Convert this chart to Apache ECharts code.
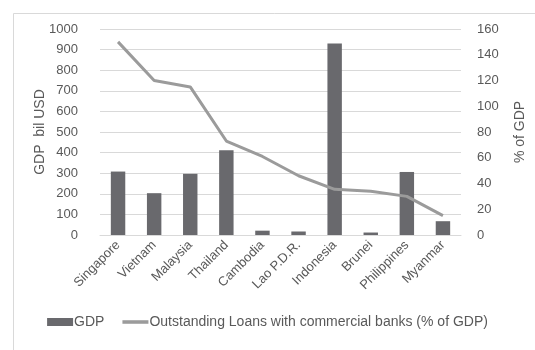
<!DOCTYPE html>
<html>
<head>
<meta charset="utf-8">
<script src="https://cdn.jsdelivr.net/npm/echarts@6/dist/echarts.min.js"></script>
<style>
  html, body { margin: 0; padding: 0; background: #fff; }
  #chart { width: 535px; height: 350px; }
</style>
</head>
<body>
<div id="chart"></div>
<script>
// ASEAN economies: GDP (bil USD) and loans outstanding with commercial banks (% of GDP)
const countries = ['Singapore', 'Vietnam', 'Malaysia', 'Thailand', 'Cambodia', 'Lao P.D.R.', 'Indonesia', 'Brunei', 'Philippines', 'Myanmar'];
const gdp = [308, 203, 297, 412, 21, 17, 930, 12, 306, 67];
const loansPct = [150, 120, 115, 73, 61, 46, 35.5, 34, 30, 15];
const gdpTicks = { min: 0, max: 1000, interval: 100 };
const pctTicks = { min: 0, max: 160, interval: 20 };

const FONT = '"Liberation Sans", sans-serif';
const TEXT = '#595959';
const BAR = '#69696d';
const LINE = '#9b9b9b';

const chart = echarts.init(document.getElementById('chart'), null, { renderer: 'canvas' });
chart.setOption({
  animation: false,
  backgroundColor: '#fff',
  textStyle: { fontFamily: FONT, color: TEXT },
  graphic: [{
    type: 'rect',
    shape: { x: 13.5, y: 13.5, width: 600, height: 400 },
    style: { fill: 'none', stroke: '#d9d9d9', lineWidth: 1 },
    silent: true
  }],
  grid: { left: 100, right: 73, top: 29, bottom: 115 },
  legend: {
    bottom: 16,
    left: 'center',
    itemWidth: 26,
    itemHeight: 8,
    itemGap: 18,
    symbolKeepAspect: true,
    textStyle: { fontFamily: FONT, fontSize: 14, color: TEXT, padding: [0, 0, 0, -4] },
    data: [
      { name: 'GDP', icon: 'rect', itemStyle: { color: BAR } },
      {
        name: 'Outstanding Loans with commercial banks (% of GDP)',
        icon: 'path://M0,0h22v3h-22z',
        itemStyle: { color: LINE }
      }
    ]
  },
  xAxis: {
    type: 'category',
    data: countries,
    axisLine: { lineStyle: { color: '#d9d9d9' } },
    axisTick: { show: false },
    axisLabel: { rotate: 45, fontSize: 13, color: TEXT, fontFamily: FONT, margin: 8, interval: 0 }
  },
  yAxis: [
    {
      type: 'value',
      ...gdpTicks,
      name: 'GDP  bil USD',
      nameLocation: 'middle',
      nameGap: 53,
      nameMoveOverlap: false,
      nameTextStyle: { fontSize: 14, color: TEXT, fontFamily: FONT },
      axisLabel: { fontSize: 13, color: TEXT, fontFamily: FONT, margin: 22, formatter: v => String(v) },
      axisLine: { show: false },
      axisTick: { show: false },
      splitLine: { lineStyle: { color: '#d9d9d9', width: 1 } }
    },
    {
      type: 'value',
      ...pctTicks,
      name: '% of GDP',
      nameLocation: 'middle',
      nameRotate: 90,
      nameGap: 52,
      nameMoveOverlap: false,
      nameTextStyle: { fontSize: 14, color: TEXT, fontFamily: FONT },
      axisLabel: { fontSize: 13, color: TEXT, fontFamily: FONT, margin: 16, formatter: v => String(v) },
      axisLine: { show: false },
      axisTick: { show: false },
      splitLine: { show: false }
    }
  ],
  series: [
    {
      name: 'GDP',
      type: 'bar',
      data: gdp,
      barWidth: '40%',
      itemStyle: { color: BAR }
    },
    {
      name: 'Outstanding Loans with commercial banks (% of GDP)',
      type: 'line',
      yAxisIndex: 1,
      data: loansPct,
      symbol: 'none',
      lineStyle: { color: LINE, width: 3 },
      itemStyle: { color: LINE }
    }
  ]
});
</script>
</body>
</html>
